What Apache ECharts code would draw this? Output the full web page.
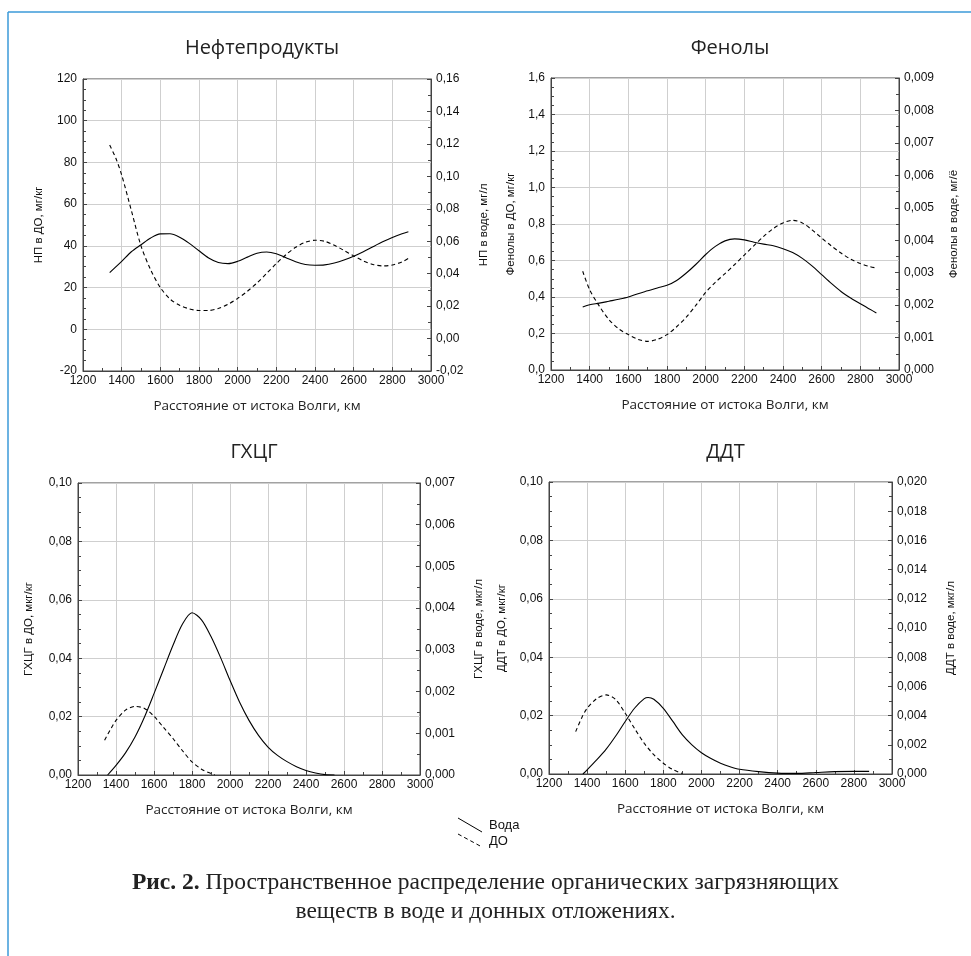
<!DOCTYPE html>
<html>
<head>
<meta charset="utf-8">
<script src="https://cdn.jsdelivr.net/npm/echarts@6/dist/echarts.min.js"></script>
<style>
html,body{margin:0;padding:0;background:#fff;}
#c{width:971px;height:956px;}
</style>
</head>
<body>
<div id="c"></div>
<script>
// ---------- DATA ----------
const panelTitles = ['Нефтепродукты', 'Фенолы', 'ГХЦГ', 'ДДТ'];
const xAxisName = 'Расстояние от истока Волги, км';
const leftNames = ['НП в ДО, мг/кг', 'Фенолы в ДО, мг/кг', 'ГХЦГ в ДО, мкг/кг', 'ДДТ в ДО, мкг/кг'];
const rightNames = ['НП в воде, мг/л', 'Фенолы в воде, мг/ё', 'ГХЦГ в воде, мкг/л', 'ДДТ в воде, мкг/л'];
const legendNames = ['Вода', 'ДО'];
const captionBold = 'Рис. 2.';
const captionLine1 = ' Пространственное распределение органических загрязняющих';
const captionLine2 = 'веществ в воде и донных отложениях.';

// Нефтепродукты
const npKmDO = [1338, 1370, 1400, 1450, 1500, 1550, 1600, 1650, 1700, 1750, 1800, 1850, 1900, 1950, 2000, 2050, 2100, 2150, 2200, 2250, 2300, 2350, 2400, 2450, 2500, 2550, 2600, 2650, 2700, 2750, 2800, 2850, 2883];
const npDO   = [88.3, 82, 74, 57, 40, 28.5, 20, 14.5, 11.5, 9.8, 9.0, 9.0, 10.0, 12.0, 14.8, 18.2, 22.2, 26.8, 31.5, 35.8, 39.3, 41.7, 42.7, 42.2, 40.3, 37.8, 35.2, 32.8, 31.1, 30.4, 30.8, 32.3, 34];
const npKmW  = [1338, 1400, 1450, 1500, 1550, 1600, 1650, 1700, 1750, 1800, 1850, 1900, 1950, 2000, 2050, 2100, 2150, 2200, 2250, 2300, 2350, 2400, 2450, 2500, 2550, 2600, 2650, 2700, 2750, 2800, 2850, 2883];
const npW    = [0.0407, 0.0476, 0.0535, 0.0578, 0.0620, 0.0645, 0.0646, 0.0625, 0.0587, 0.0541, 0.0497, 0.0469, 0.0462, 0.0476, 0.0502, 0.0526, 0.0534, 0.0523, 0.0498, 0.0474, 0.0457, 0.0452, 0.0454, 0.0466, 0.0484, 0.0507, 0.0535, 0.0566, 0.0596, 0.0623, 0.0646, 0.0659];

// Фенолы
const phKmDO = [1364, 1400, 1450, 1500, 1550, 1600, 1650, 1700, 1750, 1800, 1850, 1900, 1950, 2000, 2050, 2100, 2150, 2200, 2250, 2300, 2350, 2400, 2450, 2500, 2550, 2600, 2650, 2700, 2750, 2800, 2850, 2883];
const phDO   = [0.541, 0.44, 0.35, 0.276, 0.226, 0.194, 0.168, 0.157, 0.168, 0.194, 0.237, 0.290, 0.355, 0.425, 0.48, 0.528, 0.578, 0.630, 0.682, 0.732, 0.775, 0.806, 0.82, 0.806, 0.768, 0.723, 0.680, 0.641, 0.607, 0.583, 0.566, 0.559];
const phKmW  = [1364, 1400, 1450, 1500, 1550, 1600, 1650, 1700, 1750, 1800, 1850, 1900, 1950, 2000, 2050, 2100, 2150, 2200, 2250, 2300, 2350, 2400, 2450, 2500, 2550, 2600, 2650, 2700, 2750, 2800, 2850, 2883];
const phW    = [0.00194, 0.00201, 0.00206, 0.00212, 0.00218, 0.00225, 0.00235, 0.00244, 0.00253, 0.00261, 0.00276, 0.00299, 0.00326, 0.00356, 0.00381, 0.00398, 0.00404, 0.00401, 0.00394, 0.00388, 0.00383, 0.00374, 0.00362, 0.00344, 0.00321, 0.00294, 0.00267, 0.00242, 0.00222, 0.00204, 0.00187, 0.00176];

// ГХЦГ
const hcKmDO = [1340, 1370, 1400, 1450, 1500, 1550, 1600, 1650, 1700, 1750, 1800, 1850, 1900, 1920];
const hcDO   = [0.0119, 0.0155, 0.0187, 0.0222, 0.0235, 0.0228, 0.0201, 0.0163, 0.0125, 0.0083, 0.0045, 0.0020, 0.0005, 0];
const hcKmW  = [1356, 1400, 1450, 1500, 1550, 1600, 1650, 1700, 1750, 1800, 1850, 1900, 1950, 2000, 2050, 2100, 2150, 2200, 2250, 2300, 2350, 2400, 2450, 2500, 2550];
const hcW    = [0, 0.00023, 0.00053, 0.00091, 0.00139, 0.00195, 0.00253, 0.00311, 0.00362, 0.00389, 0.00372, 0.00332, 0.00282, 0.00227, 0.00175, 0.00131, 0.00095, 0.00067, 0.00047, 0.00032, 0.0002, 0.00011, 0.00005, 0.00001, 0];

// ДДТ
const ddKmDO = [1340, 1370, 1400, 1450, 1500, 1550, 1600, 1650, 1700, 1750, 1800, 1850, 1900];
const ddDO   = [0.0145, 0.0190, 0.0225, 0.0258, 0.0271, 0.0255, 0.0208, 0.0155, 0.0105, 0.0066, 0.0037, 0.0015, 0.0002];
const ddKmW  = [1378, 1400, 1450, 1500, 1550, 1600, 1650, 1700, 1720, 1750, 1800, 1850, 1900, 1950, 2000, 2050, 2100, 2150, 2200, 2300, 2400, 2500, 2600, 2700, 2800, 2880];
const ddW    = [0, 0.00028, 0.00096, 0.0017, 0.0026, 0.0036, 0.00452, 0.00516, 0.00524, 0.00512, 0.0045, 0.0036, 0.00268, 0.002, 0.00146, 0.00106, 0.00074, 0.0005, 0.00032, 0.00016, 0.00006, 0.00004, 0.0001, 0.00016, 0.00018, 0.00018];

// axis ranges: [min, max, interval, decimals]
const leftAxes  = [[-20, 120, 20, 0], [0, 1.6, 0.2, 1], [0, 0.1, 0.02, 2], [0, 0.1, 0.02, 2]];
const rightAxes = [[-0.02, 0.16, 0.02, 2], [0, 0.009, 0.001, 3], [0, 0.007, 0.001, 3], [0, 0.02, 0.002, 3]];
const xRange = [1200, 3000, 200];

// ---------- LAYOUT ----------
const grids = [
  {left: 83, top: 79, width: 348, height: 292},
  {left: 551, top: 78, width: 348, height: 292},
  {left: 78, top: 483, width: 342, height: 292},
  {left: 549, top: 482, width: 343, height: 292}
];
const leftGaps = [38, 34, 43, 41];
const rightGaps = [47, 49, 53, 53];
const titleTops = [33, 33, 437, 437];

const pairs = (xs, ys) => xs.map((x, i) => [x, ys[i]]);
const seriesData = [
  [pairs(npKmW, npW), pairs(npKmDO, npDO)],
  [pairs(phKmW, phW), pairs(phKmDO, phDO)],
  [pairs(hcKmW, hcW), pairs(hcKmDO, hcDO)],
  [pairs(ddKmW, ddW), pairs(ddKmDO, ddDO)]
];

const tickFont = {fontFamily: 'Liberation Sans, Arial', fontSize: 12, color: '#111'};
const nameFont = {fontFamily: 'Liberation Sans, Arial', fontSize: 11.5, color: '#111'};
const fmt = d => v => Number(v).toFixed(d).replace('.', ',');

const option = {
  animation: false,
  backgroundColor: '#fff',
  title: panelTitles.map((t, i) => ({
    text: t,
    left: grids[i].left + grids[i].width / 2,
    top: titleTops[i],
    textAlign: 'center',
    textStyle: {fontFamily: 'Open Sans', fontWeight: 'normal', fontSize: 20, color: '#222'}
  })),
  grid: grids.map(g => Object.assign({show: true, borderColor: '#444', borderWidth: 1, backgroundColor: 'transparent'}, g)),
  xAxis: grids.map((g, i) => ({
    type: 'value', gridIndex: i,
    min: xRange[0], max: xRange[1], interval: xRange[2],
    name: xAxisName, nameLocation: 'middle', nameGap: 28,
    nameTextStyle: {fontFamily: 'Open Sans', fontSize: 13.5, color: '#222'},
    axisLine: {show: true, onZero: false, lineStyle: {color: '#444', width: 1}},
    axisTick: {show: true, inside: true, length: 4, lineStyle: {color: '#444'}},
    minorTick: {show: true, splitNumber: 2, length: 3, lineStyle: {color: '#444'}},
    axisLabel: Object.assign({margin: 4, formatter: v => String(v)}, tickFont),
    splitLine: {show: true, lineStyle: {color: '#cfcfcf', width: 1}}
  })),
  yAxis: [].concat(
    grids.map((g, i) => ({
      type: 'value', gridIndex: i, position: 'left',
      min: leftAxes[i][0], max: leftAxes[i][1], interval: leftAxes[i][2],
      name: leftNames[i], nameLocation: 'middle', nameGap: leftGaps[i], nameRotate: 90,
      nameTextStyle: nameFont,
      axisLine: {show: true, onZero: false, lineStyle: {color: '#444'}},
      axisTick: {show: true, inside: true, length: 4, lineStyle: {color: '#444'}},
      minorTick: {show: true, splitNumber: 4, length: 3, lineStyle: {color: '#444'}},
      axisLabel: Object.assign({margin: 6, formatter: fmt(leftAxes[i][3])}, tickFont),
      splitLine: {show: true, lineStyle: {color: '#cfcfcf', width: 1}}
    })),
    grids.map((g, i) => ({
      type: 'value', gridIndex: i, position: 'right',
      min: rightAxes[i][0], max: rightAxes[i][1], interval: rightAxes[i][2],
      name: rightNames[i], nameLocation: 'middle', nameGap: rightGaps[i], nameRotate: 90,
      nameTextStyle: nameFont,
      axisLine: {show: true, onZero: false, lineStyle: {color: '#444'}},
      axisTick: {show: true, inside: true, length: 4, lineStyle: {color: '#444'}},
      minorTick: {show: true, splitNumber: 2, length: 3, lineStyle: {color: '#444'}},
      axisLabel: Object.assign({margin: 5, formatter: fmt(rightAxes[i][3])}, tickFont),
      splitLine: {show: false}
    }))
  ),
  series: [].concat(...seriesData.map((sd, i) => [
    {
      name: legendNames[0], type: 'line', xAxisIndex: i, yAxisIndex: 4 + i,
      data: sd[0], smooth: 0.3, showSymbol: false, symbol: 'none',
      lineStyle: {color: '#000', width: 1.1, type: 'solid'}
    },
    {
      name: legendNames[1], type: 'line', xAxisIndex: i, yAxisIndex: i,
      data: sd[1], smooth: 0.3, showSymbol: false, symbol: 'none',
      lineStyle: {color: '#000', width: 1.1, type: [4, 3]}
    }
  ])),
  graphic: [
    // blue frame
    {type: 'line', shape: {x1: 8, y1: 12, x2: 971, y2: 12}, style: {stroke: '#3b9ad8', lineWidth: 1.5}},
    {type: 'line', shape: {x1: 8, y1: 12, x2: 8, y2: 956}, style: {stroke: '#3b9ad8', lineWidth: 1.5}},
    // legend
    {type: 'line', shape: {x1: 458, y1: 818, x2: 482, y2: 832}, style: {stroke: '#000', lineWidth: 1}},
    {type: 'line', shape: {x1: 458, y1: 834, x2: 482, y2: 847}, style: {stroke: '#000', lineWidth: 1, lineDash: [4, 3]}},
    {type: 'text', left: 489, top: 819, style: {text: legendNames[0], fontFamily: 'Liberation Sans, Arial', fontSize: 13, fill: '#111'}},
    {type: 'text', left: 489, top: 835, style: {text: legendNames[1], fontFamily: 'Liberation Sans, Arial', fontSize: 13, fill: '#111'}},
    // caption
    {type: 'text', left: 'center', top: 871, style: {
      text: '{b|' + captionBold + '}' + captionLine1,
      rich: {b: {fontFamily: 'Liberation Serif', fontWeight: 'bold', fontSize: 23.5, fill: '#222'}},
      fontFamily: 'Liberation Serif', fontSize: 23.5, fill: '#222'}},
    {type: 'text', left: 'center', top: 900, style: {
      text: captionLine2, fontFamily: 'Liberation Serif', fontSize: 23.5, fill: '#222'}}
  ]
};

const chart = echarts.init(document.getElementById('c'), null, {renderer: 'canvas'});
chart.setOption(option);
</script>
</body>
</html>
